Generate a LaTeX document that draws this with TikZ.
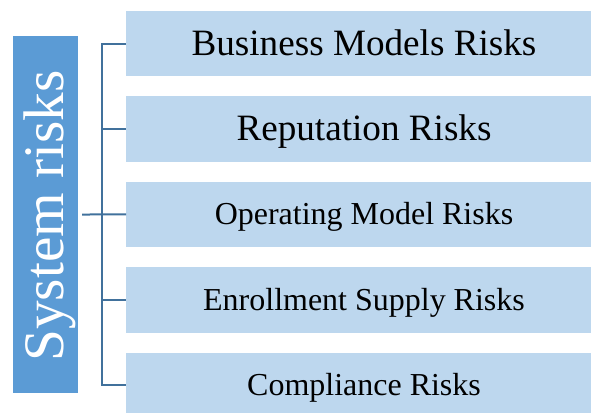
\documentclass[tikz,border=0pt]{standalone}
\usepackage{fontspec}
\setmainfont{Liberation Serif}
\definecolor{darkbox}{HTML}{5B9BD5}
\definecolor{lightbox}{HTML}{BDD7EE}
\definecolor{linecol}{RGB}{65,113,156}
\tikzset{
  riskbox/.style={fill=lightbox, draw=none},
  risklabel/.style={anchor=base, text=black, inner sep=0pt},
  bracket/.style={draw=linecol, line width=2bp},
}
\begin{document}
\begin{tikzpicture}[x=1bp,y=-1bp]
\useasboundingbox (0,0) rectangle (591,413);
% left box
\fill[darkbox] (13,36) rectangle (78,392.7);
\node[rotate=90, anchor=base, text=white, inner sep=0pt, font=\fontsize{57.5}{60}\selectfont] (sys) at (63,216) {System risks};
\coordinate (L) at (78,214.5);
% right boxes
\foreach \i/\t/\s in {0/Business Models Risks/37.3, 1/Reputation Risks/37.3, 2/Operating Model Risks/32.1, 3/Enrollment Supply Risks/32.1, 4/Compliance Risks/32.1}{
  \pgfmathsetmacro{\top}{11+85.4*\i}
  \pgfmathsetmacro{\bot}{min(\top+65.3,413)}
  \pgfmathsetmacro{\mid}{\top+32.65}
  \fill[lightbox] (126,\top) rectangle (591,\bot);
  \coordinate (b\i) at (126,\mid);
  \coordinate (t\i) at (101.7,\mid);
  \node[risklabel, font=\fontsize{\s}{\s}\selectfont] (r\i) at (364,\mid+0.32*\s) {\t};
}
% bracket
\draw[bracket] (b0) -- (t0) -- (t4) -- (b4);
\draw[bracket] (t1) -- (b1);
\draw[bracket] (t3) -- (b3);
\draw[bracket] (L) ++(4,0) -- (b2);
\end{tikzpicture}
\end{document}
